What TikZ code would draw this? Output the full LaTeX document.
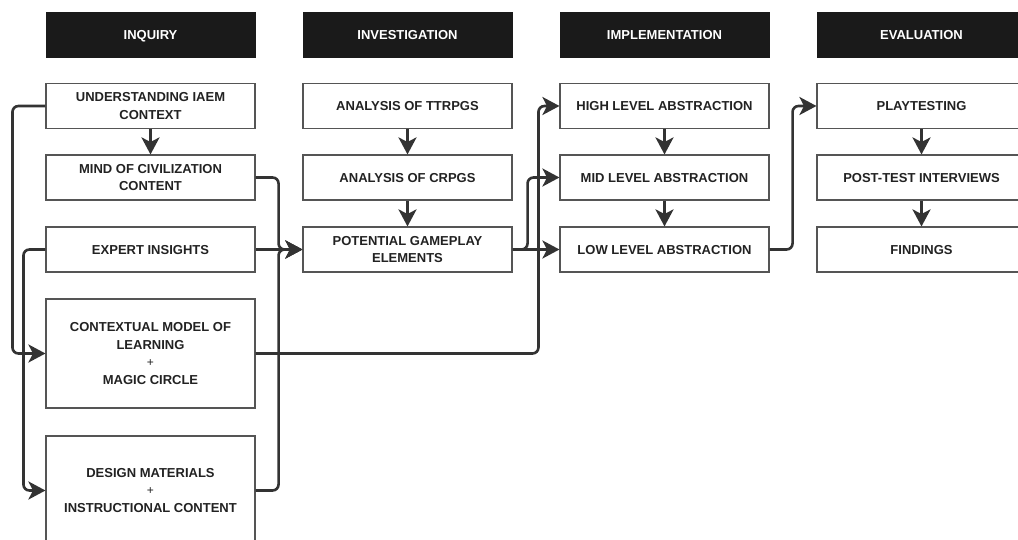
\documentclass[tikz,border=0pt]{standalone}
\usepackage{fontspec}
\setmainfont{Liberation Sans}
\usetikzlibrary{arrows.meta,calc}
\definecolor{ink}{HTML}{333333}
\definecolor{frame}{HTML}{555555}
\definecolor{label}{HTML}{222222}
\definecolor{headfill}{HTML}{1A1A1A}
\tikzset{
  oneline/.style={text height=9.3pt, text depth=0pt},
  stage/.style={fill=headfill, draw=headfill, text=white, inner sep=0pt,
    minimum width=209pt, minimum height=45pt, oneline,
    font=\bfseries\fontsize{13}{15}\selectfont},
  task/.style={draw=frame, line width=1.1pt, fill=white, text=label, inner sep=0pt,
    align=center, minimum width=209pt, minimum height=45pt,
    font=\bfseries\fontsize{13}{17.5}\selectfont},
  tall/.style={task, minimum height=109pt},
  conn/.style={draw=ink, line width=2.6pt, rounded corners=6pt,
    -{Stealth[length=17pt,width=18pt,inset=4.5pt]}},
}
\newcommand{\plusline}{{\mdseries\fontsize{12}{17.5}\selectfont +}}
\begin{document}
\begin{tikzpicture}[x=1pt,y=-1pt]
\useasboundingbox (0,0) rectangle (1018,540);
\clip (0,0) rectangle (1018,540);

% phase headers
\node[stage] (hInq) at (150.5,34.5) {INQUIRY};
\node[stage] (hInv) at (407.5,34.5) {INVESTIGATION};
\node[stage] (hImp) at (664.5,34.5) {IMPLEMENTATION};
\node[stage] (hEva) at (921.5,34.5) {EVALUATION};

% inquiry
\node[task] (und) at (150.5,106) {UNDERSTANDING IAEM\\CONTEXT};
\node[task] (mind) at (150.5,177.5) {MIND OF CIVILIZATION\\CONTENT};
\node[task, oneline] (exp) at (150.5,249.5) {EXPERT INSIGHTS};
\node[tall] (ctx) at (150.5,353.5) {CONTEXTUAL MODEL OF\\LEARNING\\\plusline\\MAGIC CIRCLE};
\node[tall] (des) at (150.5,490.5) {DESIGN MATERIALS\\\plusline\\INSTRUCTIONAL CONTENT};

% investigation
\node[task, oneline] (ttr) at (407.5,106) {ANALYSIS OF TTRPGS};
\node[task, oneline] (crp) at (407.5,177.5) {ANALYSIS OF CRPGS};
\node[task] (pot) at (407.5,249.5) {POTENTIAL GAMEPLAY\\ELEMENTS};

% implementation
\node[task, oneline] (high) at (664.5,106) {HIGH LEVEL ABSTRACTION};
\node[task, oneline] (mid) at (664.5,177.5) {MID LEVEL ABSTRACTION};
\node[task, oneline] (low) at (664.5,249.5) {LOW LEVEL ABSTRACTION};

% evaluation
\node[task, oneline] (play) at (921.5,106) {PLAYTESTING};
\node[task, oneline] (post) at (921.5,177.5) {POST-TEST INTERVIEWS};
\node[task, oneline] (find) at (921.5,249.5) {FINDINGS};

% inquiry connectors
\draw[conn] (und.south) -- (mind.north);
\draw[conn] (und.west) -- ([xshift=-33pt]und.west) |- (ctx.west);
\draw[conn] (exp.west) -- ([xshift=-22pt]exp.west) |- (des.west);
\draw[conn] (mind.east) -- ([xshift=23pt]mind.east) |- (pot.west);
\draw[conn] (des.east) -- ([xshift=23pt]des.east) |- (pot.west);
\draw[conn] (exp.east) -- (pot.west);
\draw[conn] (ctx.east) -- ($(ctx.east -| high.west)+(-21,0)$) |- (high.west);

% investigation connectors
\draw[conn] (ttr.south) -- (crp.north);
\draw[conn] (crp.south) -- (pot.north);
\draw[conn] (pot.east) -- (low.west);
\draw[conn] (pot.east) -- ([xshift=15pt]pot.east) |- (mid.west);

% implementation connectors
\draw[conn] (high.south) -- (mid.north);
\draw[conn] (mid.south) -- (low.north);
\draw[conn] (low.east) -- ([xshift=23pt]low.east) |- (play.west);

% evaluation connectors
\draw[conn] (play.south) -- (post.north);
\draw[conn] (post.south) -- (find.north);
\end{tikzpicture}
\end{document}
